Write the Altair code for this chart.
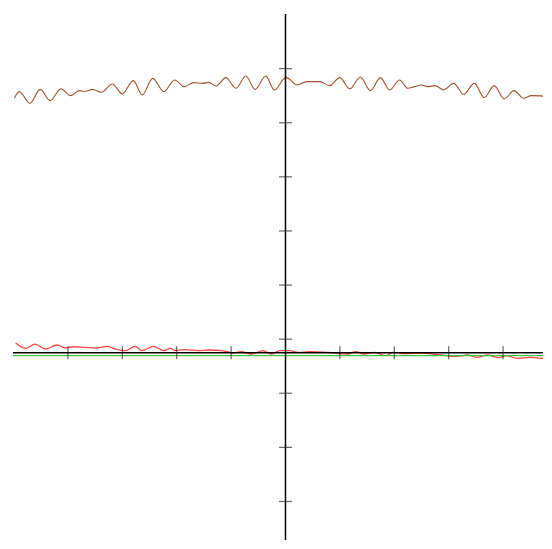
import altair as alt
import pandas as pd

# Upper (sienna) curve
top_x = [-4.985, -4.894, -4.698, -4.509, -4.326, -4.130, -3.947, -3.795, -3.672, -3.549,
         -3.385, -3.183, -3.000, -2.799, -2.634, -2.440, -2.238, -2.037, -1.859, -1.689,
         -1.535, -1.414, -1.278, -1.095, -0.912, -0.729, -0.559, -0.363, -0.205, 0.009,
         0.216, 0.388, 0.632, 0.815, 0.998, 1.181, 1.377, 1.560, 1.744, 1.914,
         2.097, 2.249, 2.372, 2.494, 2.615, 2.751, 2.908, 3.092, 3.275, 3.471,
         3.654, 3.837, 4.020, 4.203, 4.374, 4.520, 4.692, 4.875]
top_y = [4.702, 4.825, 4.610, 4.867, 4.659, 4.875, 4.751, 4.843, 4.831, 4.867,
         4.812, 4.967, 4.783, 5.028, 4.764, 5.070, 4.825, 5.041, 4.917, 4.991,
         4.978, 4.996, 4.930, 5.083, 4.886, 5.114, 4.867, 5.114, 4.856, 5.088,
         4.948, 5.009, 5.009, 4.936, 5.083, 4.875, 5.096, 4.843, 5.083, 4.856,
         5.041, 4.886, 4.917, 4.948, 4.917, 4.936, 4.856, 4.978, 4.775, 4.978,
         4.715, 4.936, 4.691, 4.843, 4.702, 4.751, 4.746, 4.720]

# Lower (red) curve
red_x = [-4.960, -4.777, -4.606, -4.410, -4.198, -4.044, -3.923, -3.678, -3.465, -3.282,
         -3.128, -2.945, -2.762, -2.641, -2.427, -2.244, -2.121, -2.029, -1.846, -1.603,
         -1.419, -1.176, -1.053, -0.993, -0.810, -0.626, -0.412, -0.260, -0.106, 0.077,
         0.229, 0.449, 0.778, 1.145, 1.291, 1.451, 1.634, 1.846, 1.969, 2.189,
         2.487, 2.853, 3.159, 3.342, 3.526, 3.709, 3.923, 4.075, 4.258, 4.502,
         4.747, 4.868]
red_y = [0.179, 0.079, 0.160, 0.068, 0.142, 0.087, 0.110, 0.098, 0.087, 0.116,
         0.068, 0.037, 0.116, 0.037, 0.116, 0.037, 0.079, 0.037, 0.055, 0.037,
         0.050, 0.037, 0.018, -0.006, 0.018, -0.024, 0.037, -0.024, 0.037, 0.037,
         0.006, 0.018, 0.006, -0.024, 0.018, -0.024, 0.006, -0.055, 0.006, -0.018,
         -0.006, -0.042, -0.068, -0.042, -0.087, -0.042, -0.092, -0.055, -0.105, -0.087,
         -0.105, -0.105]

green_level = [-0.055]
x_ticks = [-4, -3, -2, -1, 1, 2, 3, 4]
y_ticks = [-2.75, -1.75, -0.75, 0.25, 1.25, 2.25, 3.25, 4.25, 5.25]

X_DOMAIN = [-5.01, 4.734]
Y_DOMAIN = [-3.462, 6.26]

xs = alt.Scale(domain=X_DOMAIN, nice=False, zero=False)
ys = alt.Scale(domain=Y_DOMAIN, nice=False, zero=False)

top_df = pd.DataFrame({"x": top_x, "y": top_y})
red_df = pd.DataFrame({"x": red_x, "y": red_y})
green_df = pd.DataFrame({"y": green_level})
origin_df = pd.DataFrame({"x": [0], "y": [0]})
xt_df = pd.DataFrame({"v": x_ticks, "z": [0] * len(x_ticks)})
yt_df = pd.DataFrame({"v": y_ticks, "z": [0] * len(y_ticks)})

top = alt.Chart(top_df).mark_line(color="#a0522d", strokeWidth=1.1, interpolate="monotone", clip=True).encode(
    x=alt.X("x:Q", scale=xs, axis=None),
    y=alt.Y("y:Q", scale=ys, axis=None),
)
red = alt.Chart(red_df).mark_line(color="#ff4444", strokeWidth=1.3, interpolate="monotone", clip=True).encode(
    x=alt.X("x:Q", scale=xs, axis=None),
    y=alt.Y("y:Q", scale=ys, axis=None),
)
green = alt.Chart(green_df).mark_rule(color="#3cc43c", strokeWidth=1.2).encode(
    y=alt.Y("y:Q", scale=ys, axis=None)
)
xaxis = alt.Chart(origin_df).mark_rule(color="black", strokeWidth=1.5).encode(
    y=alt.Y("y:Q", scale=ys, axis=None)
)
yaxis = alt.Chart(origin_df).mark_rule(color="black", strokeWidth=1.5).encode(
    x=alt.X("x:Q", scale=xs, axis=None)
)
xt = alt.Chart(xt_df).mark_tick(orient="vertical", color="#222222", size=13, thickness=1.2).encode(
    x=alt.X("v:Q", scale=xs, axis=None),
    y=alt.Y("z:Q", scale=ys, axis=None),
)
yt = alt.Chart(yt_df).mark_tick(orient="horizontal", color="#222222", size=13, thickness=1.2).encode(
    y=alt.Y("v:Q", scale=ys, axis=None),
    x=alt.X("z:Q", scale=xs, axis=None),
)

chart = alt.layer(top, red, green, xaxis, yaxis, xt, yt).properties(
    width=532, height=528,
    padding={"left": 4, "top": 4, "right": 0, "bottom": 0},
    background="white",
).configure_view(stroke=None)

chart.save("out.html", embed_options={"renderer": "svg", "actions": False})
